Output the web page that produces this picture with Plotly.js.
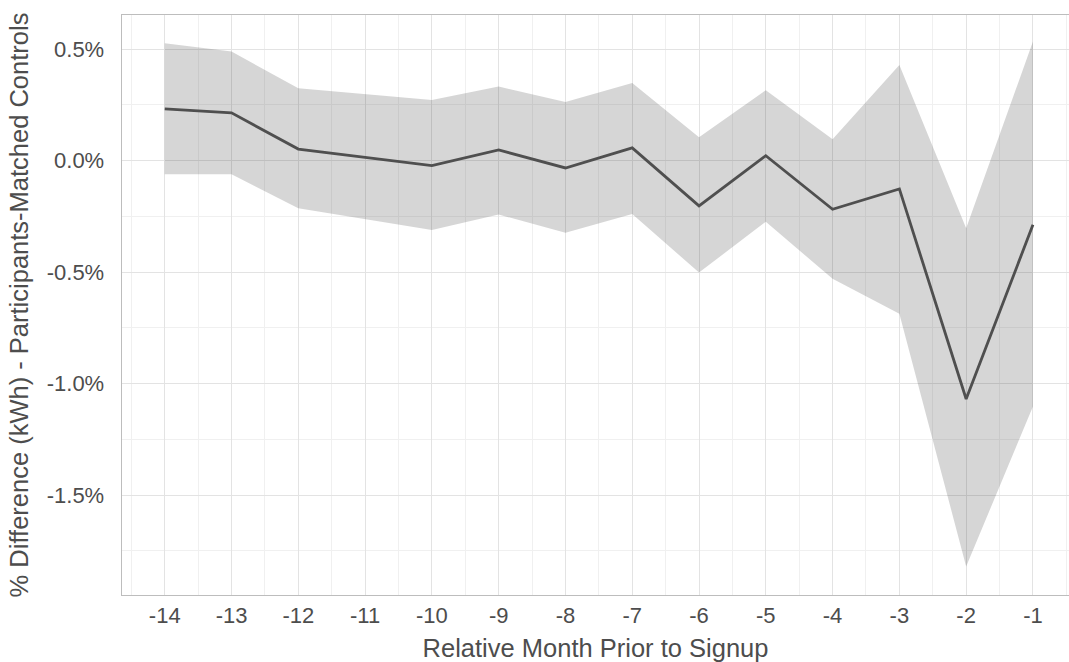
<!DOCTYPE html>
<html>
<head>
<meta charset="utf-8">
<script src="https://cdn.plot.ly/plotly-3.0.1.min.js"></script>
<style>html,body{margin:0;padding:0;background:#fff;}#chart{width:1069px;height:662px;}</style>
</head>
<body>
<div id="chart"></div>
<script>
// Relative month prior to signup
var months = [-14, -13, -12, -11, -10, -9, -8, -7, -6, -5, -4, -3, -2, -1];
// % difference (kWh), participants minus matched controls
var estimate = [0.232, 0.214, 0.052, 0.016, -0.022, 0.048, -0.033, 0.057, -0.203, 0.022, -0.218, -0.127, -1.069, -0.288];
var upper = [0.526, 0.489, 0.325, 0.300, 0.272, 0.332, 0.263, 0.348, 0.105, 0.316, 0.096, 0.429, -0.303, 0.534];
var lower = [-0.061, -0.061, -0.214, -0.264, -0.311, -0.242, -0.323, -0.239, -0.502, -0.274, -0.530, -0.687, -1.820, -1.103];

var xTickVals = [-14, -13, -12, -11, -10, -9, -8, -7, -6, -5, -4, -3, -2, -1];
var xTickText = ['-14', '-13', '-12', '-11', '-10', '-9', '-8', '-7', '-6', '-5', '-4', '-3', '-2', '-1'];
var yTickVals = [0.5, 0.0, -0.5, -1.0, -1.5];
var yTickText = ['0.5%', '0.0%', '-0.5%', '-1.0%', '-1.5%'];

var traces = [
  {x: months, y: lower, type: 'scatter', mode: 'lines', line: {width: 0, color: 'rgba(0,0,0,0)'}, hoverinfo: 'skip', showlegend: false},
  {x: months, y: upper, type: 'scatter', mode: 'lines', line: {width: 0, color: 'rgba(0,0,0,0)'}, fill: 'tonexty', fillcolor: 'rgba(51,51,51,0.2)', hoverinfo: 'skip', showlegend: false},
  {x: months, y: estimate, type: 'scatter', mode: 'lines', line: {width: 2.8, color: '#4f4f4f'}, showlegend: false}
];

var fontFam = '"Liberation Sans", Arial, sans-serif';
var layout = {
  width: 1069, height: 662,
  margin: {l: 122, r: 0, t: 15, b: 67},
  paper_bgcolor: '#ffffff', plot_bgcolor: '#ffffff',
  font: {family: fontFam, color: '#4d4d4d'},
  showlegend: false,
  xaxis: {
    range: [-14.64, -0.46],
    tickmode: 'array', tickvals: xTickVals, ticktext: xTickText,
    tickfont: {size: 22, color: '#4d4d4d', family: fontFam},
    ticks: '',
    showgrid: true, gridcolor: '#e3e3e3', gridwidth: 1,
    minor: {tickmode: 'linear', tick0: -14.5, dtick: 1, showgrid: true, gridcolor: '#f0f0f0', gridwidth: 1, ticks: ''},
    zeroline: false,
    showline: true, mirror: true, linecolor: '#bdbdbd', linewidth: 1.4,
    title: {text: 'Relative Month Prior to Signup', font: {size: 25.5, color: '#4d4d4d', family: fontFam}, standoff: 14},
    automargin: false
  },
  yaxis: {
    range: [-1.948, 0.653],
    tickmode: 'array', tickvals: yTickVals, ticktext: yTickText,
    tickfont: {size: 22, color: '#4d4d4d', family: fontFam},
    ticks: 'outside', ticklen: 12, tickcolor: 'rgba(0,0,0,0)',
    showgrid: true, gridcolor: '#e3e3e3', gridwidth: 1,
    minor: {tickmode: 'linear', tick0: 0.25, dtick: 0.5, showgrid: true, gridcolor: '#f0f0f0', gridwidth: 1, ticks: ''},
    zeroline: false,
    showline: true, linecolor: '#bdbdbd', linewidth: 1.4,
    title: {text: '% Difference (kWh) - Participants-Matched Controls', font: {size: 25.5, color: '#4d4d4d', family: fontFam}, standoff: 10},
    automargin: false
  }
};

Plotly.newPlot('chart', traces, layout, {displayModeBar: false, staticPlot: true});
</script>
</body>
</html>
